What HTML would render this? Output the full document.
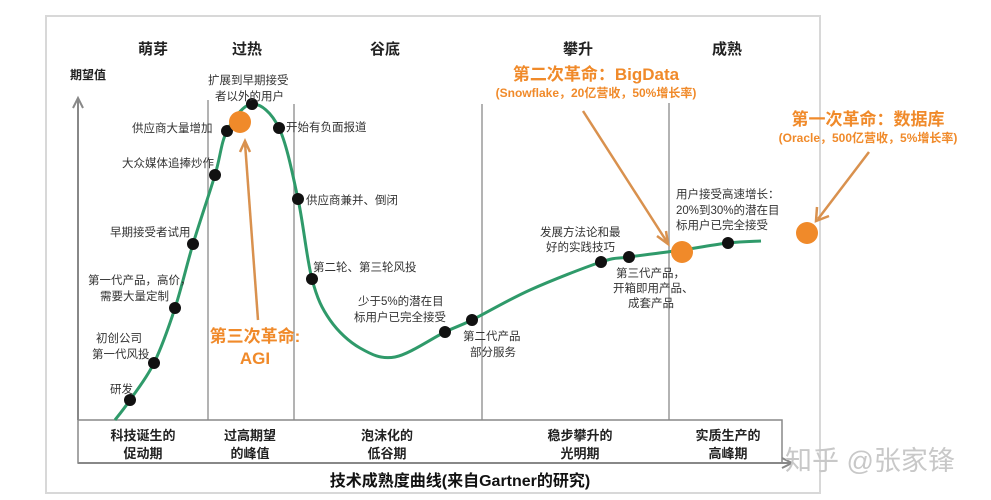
<!DOCTYPE html>
<html><head><meta charset="utf-8"><style>
body{margin:0;background:#fff;}
svg{display:block;font-family:"Liberation Sans","Noto Sans CJK SC",sans-serif;}
</style></head><body>
<svg id="chart" width="991" height="500" viewBox="0 0 991 500">
<rect x="46" y="16" width="774" height="477" fill="#fff" stroke="#d8d8d8" stroke-width="2"/>
<g stroke="#9a9a9a" stroke-width="1.5">
<line x1="208" y1="100" x2="208" y2="420"/><line x1="294" y1="104" x2="294" y2="420"/>
<line x1="482" y1="104" x2="482" y2="420"/><line x1="669" y1="103" x2="669" y2="420"/>
</g>
<g stroke="#888" stroke-width="2" fill="none">
<line x1="78" y1="420" x2="78" y2="100"/><polyline points="73,108 78,98 83,108"/>
<rect x="78" y="420" width="704" height="43" stroke-width="1.5"/>
<line x1="78" y1="463" x2="790" y2="463"/><polyline points="782,458 792,463 782,468"/>
</g>
<g font-size="15" font-weight="bold" fill="#222" text-anchor="middle">
<text x="153" y="54">萌芽</text><text x="247" y="54">过热</text><text x="385" y="54">谷底</text><text x="578" y="54">攀升</text><text x="727" y="54">成熟</text>
</g>
<text x="70" y="79" font-size="12" font-weight="bold" fill="#222">期望值</text>
<g font-size="13" font-weight="bold" fill="#222" text-anchor="middle">
<text x="143" y="440">科技诞生的</text><text x="143" y="458">促动期</text>
<text x="250" y="440">过高期望</text><text x="250" y="458">的峰值</text>
<text x="387" y="440">泡沫化的</text><text x="387" y="458">低谷期</text>
<text x="580" y="440">稳步攀升的</text><text x="580" y="458">光明期</text>
<text x="728" y="440">实质生产的</text><text x="728" y="458">高峰期</text>
</g>
<text x="460" y="486" font-size="16" font-weight="bold" fill="#111" text-anchor="middle">技术成熟度曲线(来自Gartner的研究)</text>
<g id="plot"></g>
<g fill="#f08a2a" font-weight="bold" text-anchor="middle">
<text x="596" y="80" font-size="17">第二次革命：BigData</text>
<text x="596" y="97" font-size="12">(Snowflake，20亿营收，50%增长率)</text>
<text x="868" y="125" font-size="17">第一次革命：数据库</text>
<text x="868" y="142" font-size="12">(Oracle，500亿营收，5%增长率)</text>
<text x="255" y="342" font-size="17">第三次革命:</text>
<text x="255" y="364" font-size="17">AGI</text>
</g>
<g stroke="#d9914e" stroke-width="2.5" fill="none">
<line x1="258" y1="320" x2="245" y2="143"/><polyline points="240,152 245,141 250,152"/>
<line x1="583" y1="111" x2="667" y2="242"/><polyline points="657,236 668,244 666,231"/>
<line x1="869" y1="152" x2="818" y2="219"/><polyline points="817,207 816,221 829,216"/>
</g>
<g font-size="11.5" fill="#333">
<text x="110" y="393">研发</text>
<text x="96" y="342">初创公司</text><text x="92" y="358">第一代风投</text>
<text x="88" y="284">第一代产品，高价，</text><text x="100" y="300">需要大量定制</text>
<text x="110" y="236">早期接受者试用</text>
<text x="122" y="167">大众媒体追捧炒作</text>
<text x="132" y="132">供应商大量增加</text>
<text x="208" y="84">扩展到早期接受</text><text x="215" y="100">者以外的用户</text>
<text x="286" y="131">开始有负面报道</text>
<text x="306" y="204">供应商兼并、倒闭</text>
<text x="313" y="271">第二轮、第三轮风投</text>
<text x="358" y="305">少于5%的潜在目</text><text x="354" y="321">标用户已完全接受</text>
<text x="463" y="340">第二代产品</text><text x="470" y="356">部分服务</text>
<text x="540" y="236">发展方法论和最</text><text x="546" y="251">好的实践技巧</text>
<text x="616" y="277">第三代产品，</text><text x="613" y="292">开箱即用产品、</text><text x="628" y="307">成套产品</text>
<text x="676" y="198">用户接受高速增长：</text><text x="676" y="214">20%到30%的潜在目</text><text x="676" y="229">标用户已完全接受</text>
</g>
<text x="785" y="470" font-size="27" fill="#c8c8c8">知乎 @张家锋</text>
</svg>
<script>
// curve data: stage position (x) and expectation (y)
const curveX = [37,52,76,97,115,137,149,174,201,220,234,252,282,317,367,394,452,523,551,604,650,683];
const curveY = [0,20,57,112,176,245,289,316,292,221,141,100,72,63,88,100,130,158,163,170,177,179];
// milestone dots (indices into curve)
const dotIdx = [1,2,3,4,5,6,7,8,9,10,14,15,17,18,20];
// revolution markers
const revX = [162,604,729];
const revY = [298,168,187];
const revName = ['agi-marker','bigdata-marker','database-marker'];
const xS = v => 78 + v;
const yS = v => 420 - v;
const NS = 'http://www.w3.org/2000/svg';
const plot = document.getElementById('plot');
let pts = curveX.map((x,i)=>[xS(x), yS(curveY[i])]);
let d = 'M'+pts[0][0]+','+pts[0][1];
for(let i=0;i<pts.length-1;i++){
  const p0=pts[i-1]||pts[i], p1=pts[i], p2=pts[i+1], p3=pts[i+2]||p2;
  const c1=[p1[0]+(p2[0]-p0[0])/6, p1[1]+(p2[1]-p0[1])/6];
  const c2=[p2[0]-(p3[0]-p1[0])/6, p2[1]-(p3[1]-p1[1])/6];
  d+=' C'+c1[0]+','+c1[1]+' '+c2[0]+','+c2[1]+' '+p2[0]+','+p2[1];
}
const path=document.createElementNS(NS,'path');
path.setAttribute('d',d);path.setAttribute('fill','none');
path.setAttribute('stroke','#2f9a6a');path.setAttribute('stroke-width','3');


plot.appendChild(path);
dotIdx.forEach(i=>{
  const c=document.createElementNS(NS,'circle');
  c.setAttribute('cx',xS(curveX[i]));c.setAttribute('cy',yS(curveY[i]));c.setAttribute('r','6');c.setAttribute('fill','#111');
  
  
  plot.appendChild(c);
});
revX.forEach((x,i)=>{
  const c=document.createElementNS(NS,'circle');
  c.setAttribute('cx',xS(x));c.setAttribute('cy',yS(revY[i]));c.setAttribute('r','11');c.setAttribute('fill','#f08a2a');
  
  
  plot.appendChild(c);
});
</script>
</body></html>
